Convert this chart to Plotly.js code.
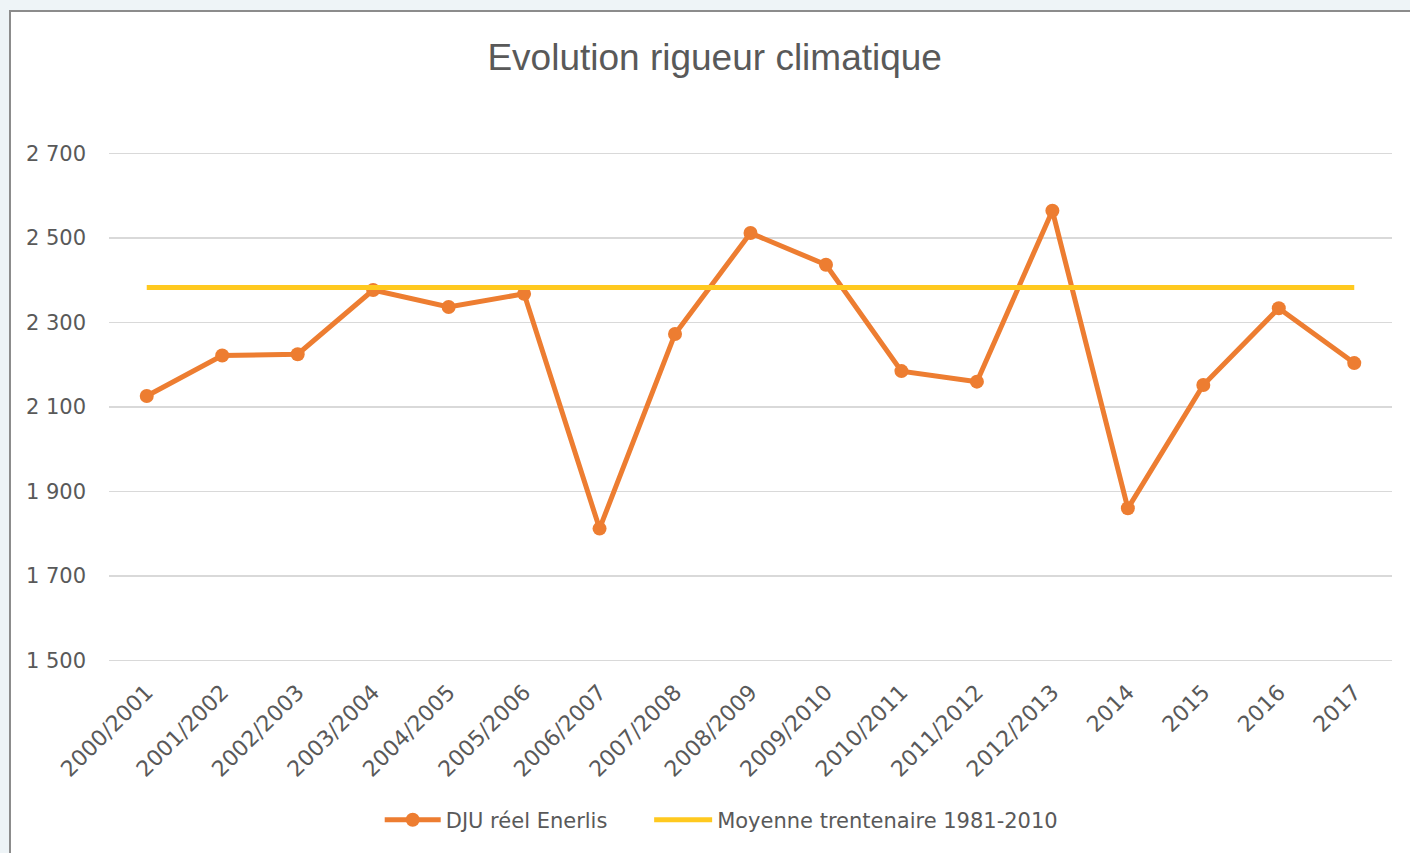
<!DOCTYPE html>
<html>
<head>
<meta charset="utf-8">
<script src="https://cdn.plot.ly/plotly-3.0.1.min.js"></script>
<style>
  html, body { margin: 0; padding: 0; }
  body { width: 1410px; height: 853px; background: #eef4f7; overflow: hidden; position: relative; }
  #frame {
    position: absolute; left: 9px; top: 10px; width: 1401px; height: 843px;
    background: #fff; border-left: 2px solid #8c8c8c; border-top: 2px solid #8c8c8c;
  }
  #chart { width: 1399px; height: 841px; }
</style>
</head>
<body>
<div id="frame"><div id="chart"></div></div>
<script>
  var seasons = [
    "2000/2001", "2001/2002", "2002/2003", "2003/2004", "2004/2005", "2005/2006",
    "2006/2007", "2007/2008", "2008/2009", "2009/2010", "2010/2011", "2011/2012",
    "2012/2013", "2014", "2015", "2016", "2017"
  ];
  // DJU
  var djuReel = [2126, 2222, 2225, 2377, 2337, 2368, 1812, 2273, 2512, 2437, 2185, 2160, 2565, 1860, 2152, 2334, 2204];
  var moyenne = 2383;
  var moyenneLine = seasons.map(function() { return moyenne; });

  var grey = "#595959";
  var txtFont = "DejaVu Sans, sans-serif";

  var trace1 = {
    x: seasons,
    y: djuReel,
    name: "DJU réel Enerlis",
    type: "scatter",
    mode: "lines+markers",
    line: { color: "#ED7D31", width: 5 },
    marker: { color: "#ED7D31", size: 14 },
    legend: "legend"
  };

  var trace2 = {
    x: seasons,
    y: moyenneLine,
    name: "Moyenne trentenaire 1981-2010",
    type: "scatter",
    mode: "lines",
    line: { color: "#FFC91F", width: 5 },
    legend: "legend2"
  };

  var data = [trace1, trace2];

  var legendFont = { family: txtFont, size: 21, color: grey };

  var layout = {
    width: 1399,
    height: 841,
    paper_bgcolor: "#ffffff",
    plot_bgcolor: "#ffffff",
    separators: ", ",
    showlegend: true,
    margin: { l: 98, r: 18, t: 140, b: 191, pad: 0 },
    font: { family: txtFont, color: grey, size: 21 },
    title: {
      text: "Evolution rigueur climatique",
      font: { family: "Liberation Sans, Arial, sans-serif", size: 37, color: grey },
      x: 0.503,
      xanchor: "center",
      y: 0.946,
      yanchor: "middle"
    },
    xaxis: {
      type: "category",
      range: [-0.5, seasons.length - 0.5],
      tickangle: -45,
      showgrid: false,
      showline: false,
      zeroline: false,
      ticks: "",
      ticklabelstandoff: 12,
      tickfont: { family: txtFont, size: 22, color: grey },
      fixedrange: true
    },
    yaxis: {
      range: [1496, 2704],
      dtick: 200,
      tick0: 1500,
      tickformat: ",d",
      showgrid: true,
      gridcolor: "#d9d9d9",
      gridwidth: 1.5,
      zeroline: false,
      showline: false,
      ticks: "",
      ticklabelstandoff: 22,
      tickfont: { family: txtFont, size: 21, color: grey },
      fixedrange: true
    },
    legend: {
      orientation: "h",
      x: 0.211,
      xanchor: "left",
      y: -0.31,
      yanchor: "middle",
      itemwidth: 56,
      font: legendFont,
      bgcolor: "rgba(0,0,0,0)"
    },
    legend2: {
      orientation: "h",
      x: 0.421,
      xanchor: "left",
      y: -0.31,
      yanchor: "middle",
      itemwidth: 58,
      font: legendFont,
      bgcolor: "rgba(0,0,0,0)"
    }
  };

  var config = { displayModeBar: false, staticPlot: true };

  Plotly.newPlot("chart", data, layout, config);
</script>
</body>
</html>
